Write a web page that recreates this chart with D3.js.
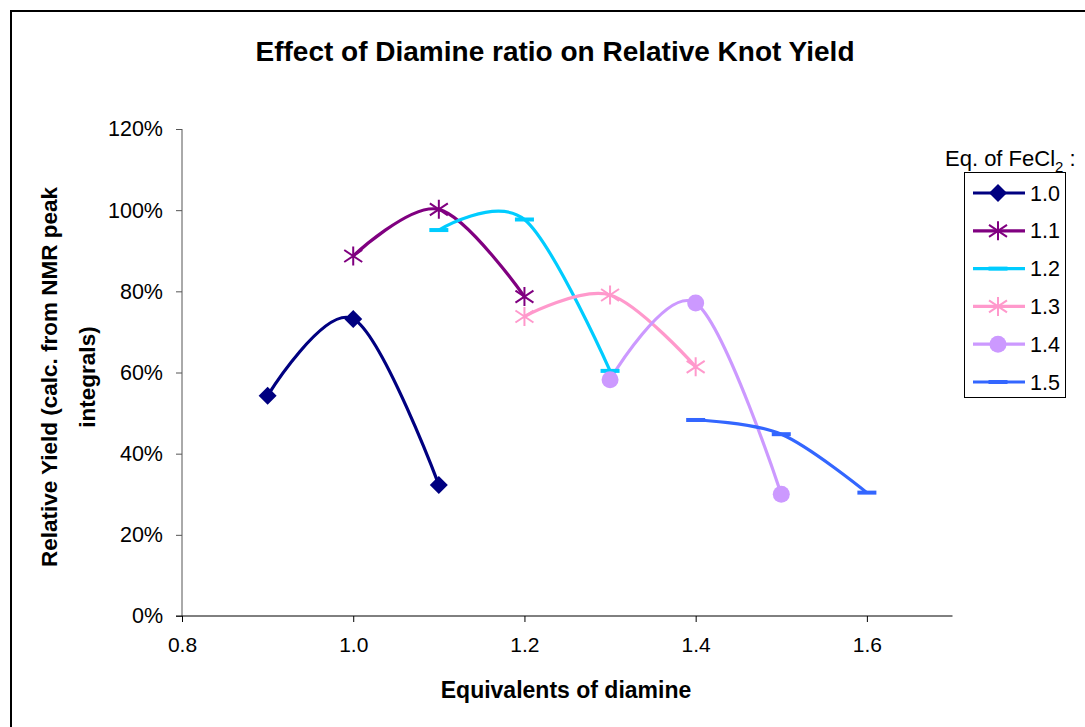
<!DOCTYPE html>
<html>
<head>
<meta charset="utf-8">
<script src="https://cdn.jsdelivr.net/npm/d3@7"></script>
<style>
  html, body { margin: 0; padding: 0; background: #fff; }
  svg { display: block; }
  text { font-family: Arial, "Liberation Sans", sans-serif; }
</style>
</head>
<body>
<svg id="chart" width="1085" height="727"></svg>
<script>
// Relative knot yield vs. equivalents of diamine, one series per FeCl2 ratio
const seriesNames = ["1.0", "1.1", "1.2", "1.3", "1.4", "1.5"];

const diamine10 = [0.9, 1.0, 1.1];
const yield10   = [0.543, 0.732, 0.323];

const diamine11 = [1.0, 1.1, 1.2];
const yield11   = [0.887, 1.002, 0.787];

const diamine12 = [1.1, 1.2, 1.3];
const yield12   = [0.951, 0.977, 0.604];

const diamine13 = [1.2, 1.3, 1.4];
const yield13   = [0.738, 0.791, 0.614];

const diamine14 = [1.3, 1.4, 1.5];
const yield14   = [0.582, 0.771, 0.300];

const diamine15 = [1.4, 1.5, 1.6];
const yield15   = [0.483, 0.448, 0.304];

const xTicks = [0.8, 1.0, 1.2, 1.4, 1.6];
const yTicks = [0, 0.2, 0.4, 0.6, 0.8, 1.0, 1.2];

const seriesColors  = ["#000080", "#800080", "#00CCFF", "#FF99CC", "#CC99FF", "#3366FF"];
const seriesMarkers = ["diamond", "star", "dash", "star", "circle", "dash"];

const seriesX = [diamine10, diamine11, diamine12, diamine13, diamine14, diamine15];
const seriesY = [yield10, yield11, yield12, yield13, yield14, yield15];

const series = seriesNames.map((name, i) => ({
  name,
  color: seriesColors[i],
  marker: seriesMarkers[i],
  points: seriesX[i].map((x, j) => ({ x, y: seriesY[i][j] }))
}));

const svg = d3.select("#chart");
const FONT = "Arial, 'Liberation Sans', sans-serif";

// chart area frame
svg.append("rect")
  .attr("x", 11).attr("y", 11)
  .attr("width", 1200).attr("height", 900)
  .attr("fill", "#fff")
  .attr("stroke", "#000")
  .attr("stroke-width", 2);

const plot = { left: 182, right: 952.5, top: 129, bottom: 616 };

const x = d3.scaleLinear().domain([0.8, 1.7]).range([plot.left, plot.right]);
const y = d3.scaleLinear().domain([0, 1.2]).range([plot.bottom, plot.top]);

// title
svg.append("text")
  .attr("x", 555).attr("y", 61)
  .attr("text-anchor", "middle")
  .attr("font-size", 28)
  .attr("font-weight", "bold")
  .text("Effect of Diamine ratio on Relative Knot Yield");

// y axis
const yAxis = svg.append("g")
  .attr("transform", `translate(${plot.left},0)`)
  .call(d3.axisLeft(y).tickValues(yTicks).tickSize(6).tickPadding(13)
    .tickFormat(d3.format(".0%")));
yAxis.select(".domain").attr("stroke", "#555").attr("d", `M0,${plot.top}V${plot.bottom}`);
yAxis.selectAll(".tick line").attr("stroke", "#555");
yAxis.selectAll("text").attr("font-size", 21.5).attr("fill", "#000")
  .attr("font-family", FONT);

// x axis
const xAxis = svg.append("g")
  .attr("transform", `translate(0,${plot.bottom})`)
  .call(d3.axisBottom(x).tickValues(xTicks).tickSize(6).tickPadding(15)
    .tickFormat(d3.format(".1f")));
xAxis.select(".domain").attr("stroke", "#000").attr("d", `M${plot.left - 6},0H${plot.right}`);
xAxis.selectAll(".tick line").attr("stroke", "#000");
xAxis.selectAll("text").attr("font-size", 21).attr("fill", "#000")
  .attr("font-family", FONT);

// axis titles
svg.append("text")
  .attr("x", 566).attr("y", 698)
  .attr("text-anchor", "middle")
  .attr("font-size", 23)
  .attr("font-weight", "bold")
  .text("Equivalents of diamine");

const yTitle = svg.append("text")
  .attr("transform", "rotate(-90)")
  .attr("text-anchor", "middle")
  .attr("font-size", 22.5)
  .attr("font-weight", "bold");
yTitle.append("tspan").attr("x", -377).attr("y", 57).text("Relative Yield (calc. from NMR peak");
yTitle.append("tspan").attr("x", -377).attr("y", 95).text("integrals)");

// marker shapes
function drawMarker(g, type, color) {
  if (type === "diamond") {
    g.append("path").attr("d", "M0,-9L9,0L0,9L-9,0Z").attr("fill", color);
  } else if (type === "circle") {
    g.append("circle").attr("r", 8.5).attr("fill", color);
  } else if (type === "star") {
    g.append("path")
      .attr("d", "M0,-9.5V9.5M-9,-6L9,6M-9,6L9,-6")
      .attr("stroke", color).attr("stroke-width", 2).attr("fill", "none");
  } else if (type === "dash") {
    g.append("rect").attr("x", -9.5).attr("y", -2).attr("width", 19).attr("height", 4).attr("fill", color);
  }
}

// smoothed series lines
const line = d3.line()
  .x(d => x(d.x))
  .y(d => y(d.y))
  .curve(d3.curveCardinal.tension(0));

const seriesG = svg.append("g");
series.forEach(s => {
  seriesG.append("path")
    .attr("d", line(s.points))
    .attr("fill", "none")
    .attr("stroke", s.color)
    .attr("stroke-width", 3.2)
    .attr("stroke-linejoin", "round");
});
series.forEach(s => {
  s.points.forEach(p => {
    const g = seriesG.append("g").attr("transform", `translate(${x(p.x)},${y(p.y)})`);
    drawMarker(g, s.marker, s.color);
  });
});

// legend
const legendTitle = svg.append("text")
  .attr("x", 945).attr("y", 166)
  .attr("font-size", 22);
legendTitle.append("tspan").text("Eq. of FeCl");
legendTitle.append("tspan").attr("font-size", 15).attr("dy", 6).text("2");
legendTitle.append("tspan").attr("dy", -6).text(" :");

svg.append("rect")
  .attr("x", 964.5).attr("y", 172.5)
  .attr("width", 101).attr("height", 225)
  .attr("fill", "#fff").attr("stroke", "#000").attr("stroke-width", 1);

const legendY = d3.scalePoint().domain(seriesNames).range([193, 382]);
series.forEach(s => {
  const g = svg.append("g").attr("transform", `translate(0,${legendY(s.name)})`);
  g.append("line")
    .attr("x1", 973).attr("x2", 1025)
    .attr("stroke", s.color).attr("stroke-width", 3.2);
  const m = g.append("g").attr("transform", "translate(998,0)");
  drawMarker(m, s.marker, s.color);
  g.append("text")
    .attr("x", 1030).attr("y", 7.5)
    .attr("font-size", 21.5)
    .text(s.name);
});
</script>
</body>
</html>
